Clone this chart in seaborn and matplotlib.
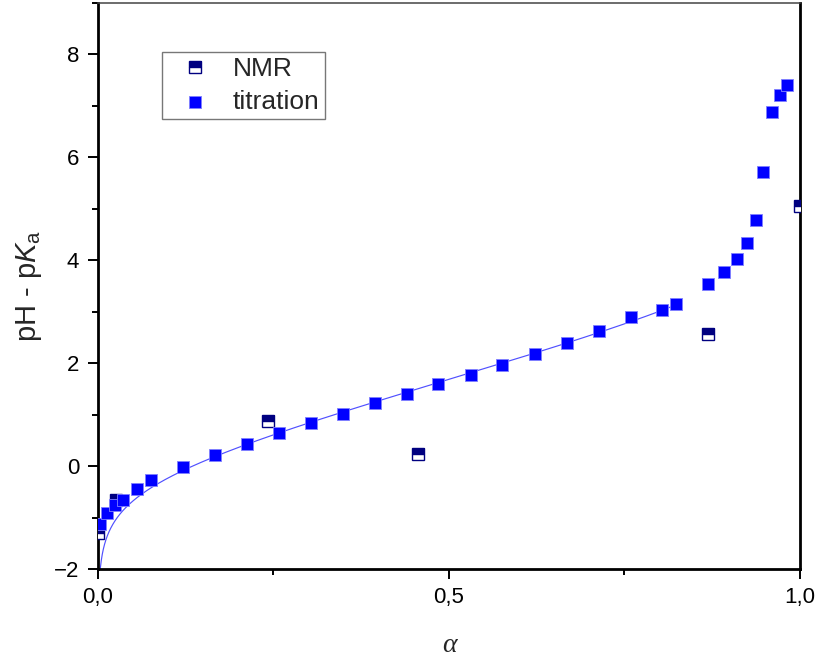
import numpy as np
import pandas as pd
import matplotlib
matplotlib.use("Agg")
import matplotlib.pyplot as plt
from matplotlib.ticker import FixedLocator, FixedFormatter, MultipleLocator
import seaborn as sns

# Degree of dissociation and pH - pKa from the potentiometric titration
titration_alpha = [0.003, 0.013, 0.024, 0.035, 0.055, 0.075, 0.121, 0.166,
                   0.212, 0.258, 0.303, 0.349, 0.394, 0.440, 0.485, 0.531,
                   0.576, 0.622, 0.668, 0.714, 0.759, 0.804, 0.823, 0.869,
                   0.892, 0.910, 0.924, 0.937, 0.948, 0.960, 0.971, 0.982]
titration_y = [-1.12, -0.92, -0.76, -0.65, -0.45, -0.28, -0.01, 0.22,
               0.43, 0.635, 0.83, 1.02, 1.22, 1.40, 1.59, 1.78,
               1.97, 2.17, 2.39, 2.63, 2.89, 3.03, 3.15, 3.53,
               3.77, 4.03, 4.33, 4.78, 5.72, 6.88, 7.22, 7.40]

# Same quantity obtained from NMR chemical shifts
nmr_alpha = [0.0, 0.026, 0.2415, 0.456, 0.869, 1.0]
nmr_y = [-1.30, -0.66, 0.87, 0.24, 2.56, 5.05]

# Axis ticks
x_major = [0.0, 0.5, 1.0]
x_tick_labels = ["0,0", "0,5", "1,0"]
y_major = [-2, 0, 2, 4, 6, 8]

# Fit range for the extended Henderson-Hasselbalch equation
fit_lo, fit_hi = 0.1, 0.83

sns.set_style("ticks")
plt.rcParams["font.family"] = ["Liberation Sans", "DejaVu Sans"]
plt.rcParams["mathtext.fontset"] = "custom"
plt.rcParams["mathtext.rm"] = "Liberation Sans"
plt.rcParams["mathtext.it"] = "Liberation Sans:italic"

tit = pd.DataFrame({"alpha": titration_alpha, "dpH": titration_y})
nmr = pd.DataFrame({"alpha": nmr_alpha, "dpH": nmr_y})

# pH - pKa = a + log10(alpha / (1 - alpha)) + c * alpha, fitted on the middle range
sel = tit[(tit["alpha"] >= fit_lo) & (tit["alpha"] <= fit_hi)]
resid = sel["dpH"] - np.log10(sel["alpha"] / (1 - sel["alpha"]))
c_fit, a_fit = np.polyfit(sel["alpha"], resid, 1)
a_grid = np.geomspace(1e-3, sel["alpha"].max(), 500)
fit = pd.DataFrame({"alpha": a_grid,
                    "dpH": a_fit + np.log10(a_grid / (1 - a_grid)) + c_fit * a_grid})

fig = plt.figure(figsize=(8.2, 6.64), dpi=100)
ax = fig.add_axes([98 / 820, 1 - 569 / 664, 702 / 820, 566 / 664])

sns.lineplot(data=fit, x="alpha", y="dpH", ax=ax, color="#5050ff", lw=0.85,
             sort=False, estimator=None, zorder=2)
sns.lineplot(data=nmr, x="alpha", y="dpH", ax=ax, linestyle="", marker="s",
             markersize=8.3, fillstyle="top", markerfacecolor="#000080",
             markerfacecoloralt="white", markeredgecolor="#000080",
             markeredgewidth=1.0, color="#000080", sort=False, estimator=None,
             label="NMR", zorder=3)
sns.scatterplot(data=tit, x="alpha", y="dpH", ax=ax, marker="s", s=70,
                color="#0000ff", edgecolor="#8080ff", linewidth=0.6,
                label="titration", zorder=4)

ax.set_xlim(0, 1)
ax.set_ylim(-2, 9)
ax.xaxis.set_major_locator(FixedLocator(x_major))
ax.xaxis.set_major_formatter(FixedFormatter(x_tick_labels))
ax.xaxis.set_minor_locator(MultipleLocator(0.25))
ax.yaxis.set_major_locator(FixedLocator(y_major))
ax.yaxis.set_minor_locator(MultipleLocator(1))

ax.tick_params(axis="both", which="major", direction="out", length=7.5,
               width=1.4, labelsize=16, color="black", labelcolor="black")
ax.tick_params(axis="x", which="major", pad=5.5)
ax.tick_params(axis="y", which="major", pad=6)
ax.tick_params(axis="both", which="minor", direction="out", length=4.5,
               width=1.4, color="black")
ax.tick_params(top=False, right=False, which="both")

for side in ("left", "bottom", "right"):
    ax.spines[side].set_linewidth(2.0)
    ax.spines[side].set_color("black")
ax.spines["top"].set_linewidth(1.1)
ax.spines["top"].set_color("#444444")

ax.set_xlabel("α", fontfamily="Liberation Serif", fontstyle="italic",
              fontsize=20, labelpad=18)
ax.set_ylabel(r"pH - p$\mathit{K}_{\mathrm{a}}$", fontsize=21, labelpad=7)

handles, labels = ax.get_legend_handles_labels()
order = [labels.index("NMR"), labels.index("titration")]
leg = ax.legend([handles[i] for i in order], [labels[i] for i in order],
                loc="upper left", bbox_to_anchor=(0.0907, 0.914),
                borderaxespad=0, fontsize=19, frameon=True, fancybox=False,
                edgecolor="#555555", handlelength=2.11, handletextpad=0.37,
                labelspacing=0.33, borderpad=0.21)
leg.get_frame().set_linewidth(1.0)

fig.savefig("out.png", dpi=100)
